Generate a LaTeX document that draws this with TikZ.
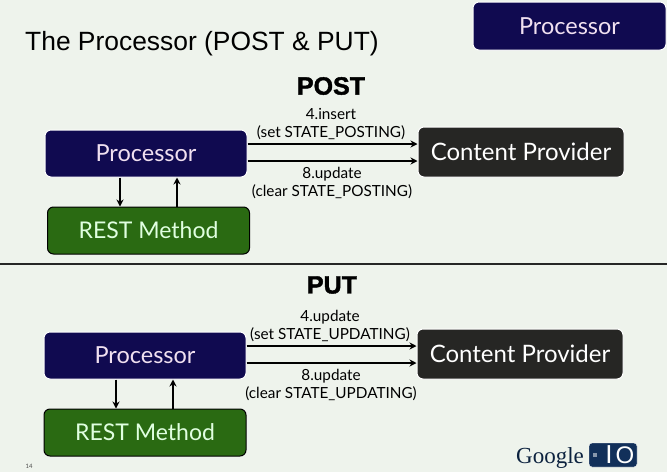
\documentclass[tikz,border=0pt]{standalone}
\usepackage{fontspec}
\usepackage{xcolor}
\setmainfont{Lato}
\newfontfamily\titlefont{Liberation Sans}
\newfontfamily\headfont[FakeBold=1.6]{Liberation Sans Bold}
\newfontfamily\logofont{Liberation Serif}
\usetikzlibrary{arrows.meta}

\definecolor{slidebg}{HTML}{EEF3EC}
\definecolor{navybox}{HTML}{100A50}
\definecolor{darkbox}{HTML}{262624}
\definecolor{greenbox}{HTML}{2A6A12}
\definecolor{logoblue}{HTML}{12305A}

\tikzset{
    box/.style={shape=rectangle, rounded corners=6pt, draw=white, line width=1pt, inner sep=0pt,
        minimum height=47pt, minimum width=202pt, font=\fontsize{23.5}{26}\selectfont},
    procbox/.style={box, fill=navybox, text=violet!12!white},
    provbox/.style={box, fill=darkbox, text=white, minimum width=206pt, minimum height=50pt, font=\fontsize{24}{26}\selectfont},
    restbox/.style={box, draw=black, fill=greenbox, text=green!12!white, font=\fontsize{23}{26}\selectfont},
    heading/.style={font=\headfont\fontsize{25}{28}\selectfont},
    note/.style={align=center, inner sep=0pt, font=\fontsize{15.3}{18}\selectfont, text=black},
    flow/.style={line width=1.3pt, -{Stealth[length=7pt,width=7pt]}}
}

\begin{document}
\begin{tikzpicture}[x=1pt, y=-1pt]
            \useasboundingbox (0, 0) rectangle (667, 472);
            \fill[slidebg] (0, 0) rectangle (667, 472);

            \node[anchor=base west, inner sep=0pt, font=\titlefont\fontsize{26.4}{30}\selectfont] (title) at (25, 50) {The Processor (POST \& PUT)};
            \node[procbox, minimum width=193pt, minimum height=48pt] (corner) at (569.5, 26) {Processor};

            % POST
            \node[heading] (postHead) at (331, 86) {POST};
            \node[procbox] (procA) at (146, 153.5) {Processor};
            \node[provbox] (provA) at (521, 152) {Content Provider};
            \node[restbox] (restA) at (148.5, 230.5) {REST Method};
            \node[note] (insertA) at (331, 124) {4.insert\\(set STATE\_POSTING)};
            \node[note] (updateA) at (332, 183) {8.update\\(clear STATE\_POSTING)};

            \path [flow] ([yshift=9.5pt]procA.east) edge ([yshift=8pt]provA.west);
            \path [flow] ([yshift=-7.5pt]procA.east) edge ([yshift=-9pt]provA.west);
            \path [flow] ([xshift=-26pt]procA.south) edge ([xshift=-28.5pt]restA.north);
            \path [flow] ([xshift=28.5pt]restA.north) edge ([xshift=31pt]procA.south);

            \coordinate (ruleL) at (0, 264);
            \coordinate (ruleR) at (667, 264);
            \path [line width=2pt, draw=black!85] (ruleL) -- (ruleR);

            % PUT
            \node[heading] (putHead) at (332, 285) {PUT};
            \node[procbox] (procB) at (145, 355.5) {Processor};
            \node[provbox] (provB) at (520, 354) {Content Provider};
            \node[restbox] (restB) at (145, 432.5) {REST Method};
            \node[note] (insertB) at (330, 326) {4.update\\(set STATE\_UPDATING)};
            \node[note] (updateB) at (331, 385) {8.update\\(clear STATE\_UPDATING)};

            \path [flow] ([yshift=9.5pt]procB.east) edge ([yshift=8pt]provB.west);
            \path [flow] ([yshift=-7.5pt]procB.east) edge ([yshift=-9pt]provB.west);
            \path [flow] ([xshift=-29pt]procB.south) edge ([xshift=-29pt]restB.north);
            \path [flow] ([xshift=28pt]restB.north) edge ([xshift=28pt]procB.south);

            % footer
            \node[inner sep=0pt, font=\fontsize{6}{7}\selectfont, text=black!70] (pageNo) at (29, 466) {14};
            \node[anchor=base, inner sep=0pt, font=\logofont\fontsize{23}{26}\selectfont, text=logoblue!70!black] (google) at (550, 463) {Google};
            \node[shape=rectangle, rounded corners=3pt, draw=white, fill=logoblue, minimum width=48pt, minimum height=24pt, inner sep=0pt] (logoBox) at (613, 455) {};
            \node[shape=rectangle, fill=logoblue!50!white, minimum size=4pt, inner sep=0pt] (logoDot) at (595, 455) {};
            \node[inner sep=0pt, font=\titlefont\fontsize{26}{26}\selectfont, text=white] (logoI) at (609, 455) {I};
            \node[inner sep=0pt, font=\titlefont\fontsize{24}{26}\selectfont, text=white] (logoO) at (625, 455) {O};
        \end{tikzpicture}
\end{document}
